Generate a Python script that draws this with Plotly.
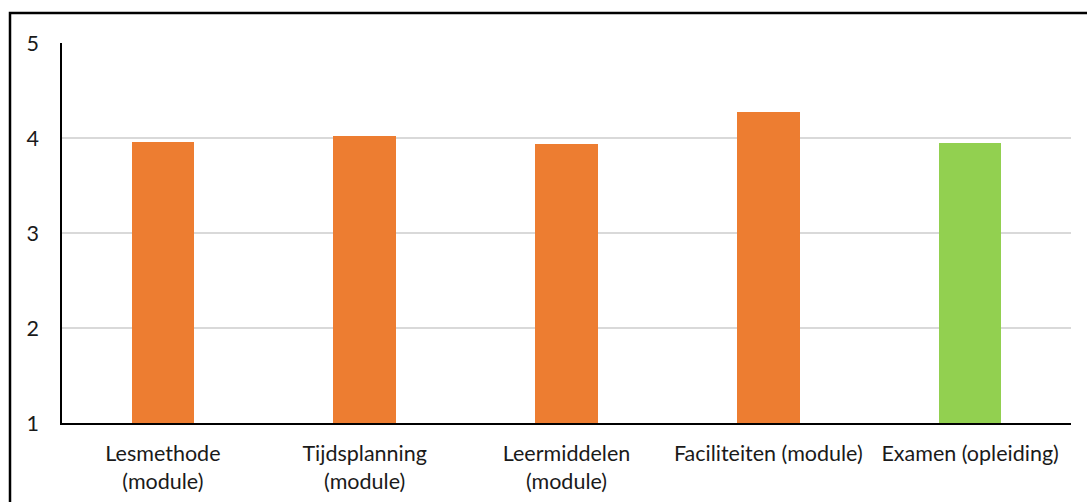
import plotly.graph_objects as go

categories = ["Lesmethode<br>(module)", "Tijdsplanning<br>(module)", "Leermiddelen<br>(module)",
              "Faciliteiten (module)", "Examen (opleiding)"]
values = [3.96, 4.02, 3.94, 4.27, 3.95]
colors = ["#ED7D31", "#ED7D31", "#ED7D31", "#ED7D31", "#92D050"]
y_ticks = [1, 2, 3, 4, 5]

FONT = "Lato"
TXT = "#1a1a1a"

fig = go.Figure(go.Bar(
    x=categories, y=values, marker=dict(color=colors, line=dict(width=0)),
    width=0.31, hoverinfo="x+y",
))

W, H = 1087, 502
L, R, T, B = 62, 16, 43, 79
pw, ph = W - L - R, H - T - B

def px_x(p):
    return (p - L) / pw

def px_y(p):
    return (H - B - p) / ph

fig.update_layout(
    width=W, height=H,
    margin=dict(l=L, r=R, t=T, b=B, pad=0),
    paper_bgcolor="white", plot_bgcolor="white",
    font=dict(family=FONT, size=21.5, color=TXT),
    showlegend=False,
    bargap=0,
    xaxis=dict(
        showgrid=False, showline=True, linecolor="black", linewidth=1.5,
        ticks="", ticklabelstandoff=10, tickfont=dict(size=21.5, color=TXT),
        fixedrange=True, automargin=False,
    ),
    yaxis=dict(
        range=[1, 5], tickvals=y_ticks, showgrid=True, gridcolor="#d9d9d9", gridwidth=1.5,
        showline=True, linecolor="black", linewidth=1.5, zeroline=False,
        ticks="", ticklabelstandoff=17, tickfont=dict(size=21.5, color=TXT),
        fixedrange=True, automargin=False,
    ),
    shapes=[dict(
        type="rect", xref="paper", yref="paper",
        x0=px_x(10), x1=px_x(1100), y0=px_y(520), y1=px_y(13),
        line=dict(color="black", width=2.5), fillcolor="rgba(0,0,0,0)", layer="above",
    )],
)

fig.write_html("out.html")
